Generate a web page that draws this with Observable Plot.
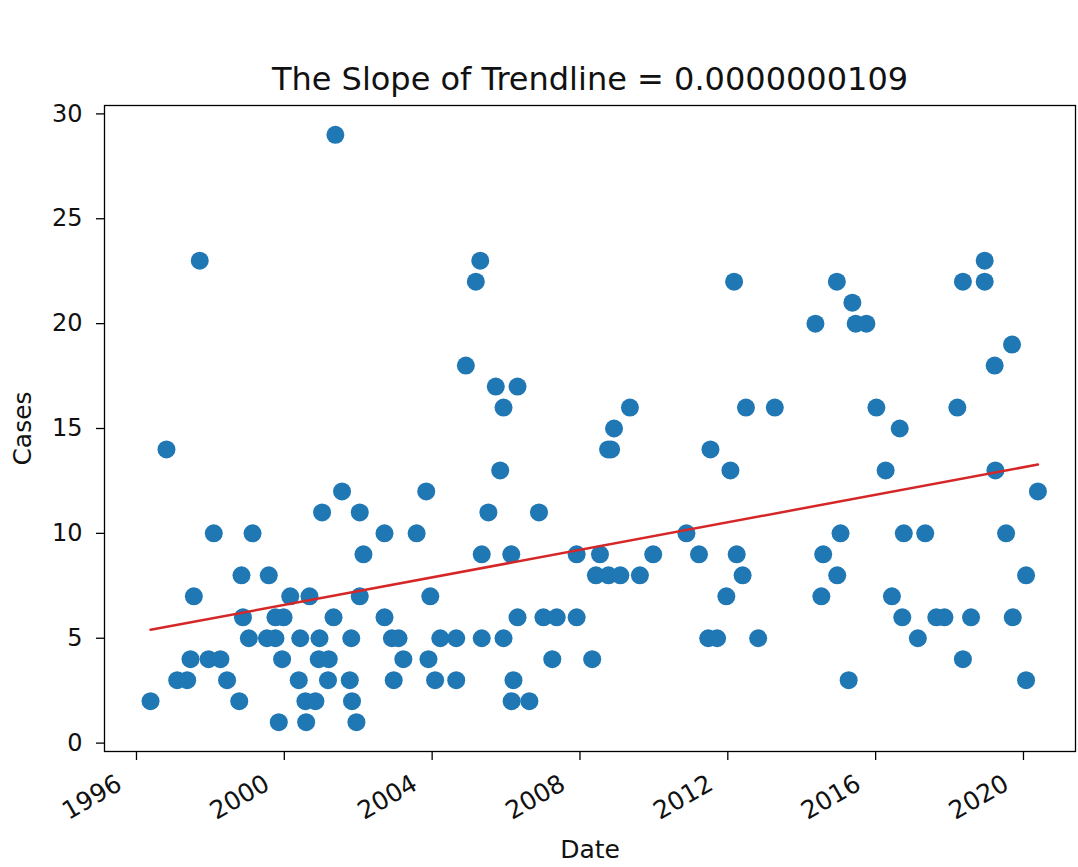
<!DOCTYPE html>
<html>
<head>
<meta charset="utf-8">
<script src="https://cdn.jsdelivr.net/npm/d3@7"></script>
<script src="https://cdn.jsdelivr.net/npm/@observablehq/plot@0.6"></script>
<style>
  html, body { margin: 0; padding: 0; background: #fff; }
</style>
</head>
<body>
<div id="chart"></div>
<script>
const years = [
  2001.38, 1997.71, 2005.30, 2005.18, 2004.91, 2005.72, 2006.31, 2005.93, 2009.35, 2008.92,
  2012.17, 2012.49, 2013.27, 2014.95, 2015.37, 2014.37, 2015.46, 2015.75, 2016.02, 2016.65,
  2018.21, 2018.36, 2018.95, 2018.95, 2019.69, 2019.22,
  1996.81, 2001.56, 2003.84, 2001.02, 2002.04, 2005.52, 1998.09, 1999.14, 2002.71, 2003.58,
  2002.14, 2005.34, 1998.84, 1999.58, 1997.55, 2000.16, 2000.68, 2002.04, 2003.95,
  1998.88, 1999.76, 1999.98, 2001.33, 2002.71,
  1999.04, 1999.53, 1999.76, 2000.43, 2000.95, 2001.81, 2002.91, 2003.09, 2004.22, 2004.65, 2005.34,
  1997.46, 1997.95, 1998.27, 1999.94, 2000.93, 2001.20, 2003.22, 2003.90,
  1997.10, 1997.37, 1998.45, 2000.39, 2001.18, 2001.77, 2002.96, 2004.08, 2004.65,
  1996.38, 1998.78, 2000.57, 2000.84, 2001.83,
  1999.85, 2000.59, 2001.95,
  2008.84, 2008.76, 2005.84, 2011.53, 2012.07, 2006.89,
  2006.14, 2007.91, 2008.54, 2009.98, 2011.22, 2012.24, 2010.88,
  2008.43, 2008.77, 2009.09, 2009.62, 2012.40, 2011.96,
  2006.31, 2007.01, 2007.37, 2007.91,
  2005.93, 2011.47, 2011.71, 2012.82,
  2007.25, 2008.33, 2006.20, 2006.15, 2006.63,
  2016.27, 2019.24, 2020.39, 2015.05, 2016.76, 2017.34, 2019.53, 2014.58, 2014.96, 2020.07,
  2014.53, 2016.44, 2016.72, 2017.64, 2017.86, 2018.58, 2019.71, 2017.14, 2018.36, 2015.27, 2020.07
];
// Cases for each observation
const cases = [
  29, 23, 23, 22, 18, 17, 17, 16, 16, 15,
  22, 16, 16, 22, 21, 20, 20, 20, 16, 15,
  16, 22, 23, 22, 19, 18,
  14, 12, 12, 11, 11, 11, 10, 10, 10, 10,
  9, 9, 8, 8, 7, 7, 7, 7, 7,
  6, 6, 6, 6, 6,
  5, 5, 5, 5, 5, 5, 5, 5, 5, 5, 5,
  4, 4, 4, 4, 4, 4, 4, 4,
  3, 3, 3, 3, 3, 3, 3, 3, 3,
  2, 2, 2, 2, 2,
  1, 1, 1,
  14, 14, 13, 14, 13, 11,
  9, 9, 9, 9, 9, 9, 10,
  8, 8, 8, 8, 8, 7,
  6, 6, 6, 6,
  5, 5, 5, 5,
  4, 4, 3, 2, 2,
  13, 13, 12, 10, 10, 10, 10, 9, 8, 8,
  7, 7, 6, 6, 6, 6, 6, 5, 4, 3, 3
];
const xTickYears = [1996, 2000, 2004, 2008, 2012, 2016, 2020];
const yTicks = [0, 5, 10, 15, 20, 25, 30];
const titleText = "The Slope of Trendline = 0.0000000109";
const xLabel = "Date";
const yLabel = "Cases";

function toDate(y) {
  const yr = Math.floor(y);
  const start = Date.UTC(yr, 0, 1);
  const end = Date.UTC(yr + 1, 0, 1);
  return new Date(start + (y - yr) * (end - start));
}

const data = years.map((y, i) => ({date: toDate(y), cases: cases[i]}));
const xTicks = xTickYears.map(toDate);
const yearFmt = d3.utcFormat("%Y");

const chart = Plot.plot({
  width: 1078,
  height: 867,
  marginLeft: 104,
  marginRight: 3,
  marginTop: 105,
  marginBottom: 116,
  style: {fontFamily: "'DejaVu Sans', sans-serif", fontSize: "24px", color: "#000", background: "#fff"},
  x: {type: "utc", domain: [toDate(1995.134), toDate(2021.406)], label: null},
  y: {domain: [-0.4, 30.4], label: null},
  marks: [
    Plot.dot(data, {x: "date", y: "cases", r: 9, fill: "#1f77b4", stroke: "none"}),
    Plot.linearRegressionY(data, {x: "date", y: "cases", stroke: "#d62728", strokeWidth: 2.5, ci: 0}),
    Plot.frame({stroke: "#000", strokeWidth: 1.3}),
    // x tick marks
    Plot.axisX({ticks: xTicks, tickSize: 9, tickFormat: () => "", label: null, strokeWidth: 1.3}),
    // x tick labels, rotated
    Plot.axisX({ticks: xTicks, tickSize: 0, tickPadding: 30, tickFormat: yearFmt, tickRotate: -30,
                dx: -17, fontSize: 25, label: null, fill: "#111"}),
    Plot.axisY({ticks: yTicks, tickSize: 8, tickPadding: 14, fontSize: 24, label: null, strokeWidth: 1.3, fill: "#111"}),
    Plot.text([titleText], {text: d => d, frameAnchor: "top", dy: -38, fontSize: 32, fill: "#111"}),
    Plot.text([xLabel], {text: d => d, frameAnchor: "bottom", dy: 106, fontSize: 25, fill: "#111"}),
    Plot.text([yLabel], {text: d => d, frameAnchor: "left", textAnchor: "middle", dx: -82, rotate: -90, fontSize: 25, fill: "#111"})
  ]
});
document.getElementById("chart").appendChild(chart);
</script>
</body>
</html>
